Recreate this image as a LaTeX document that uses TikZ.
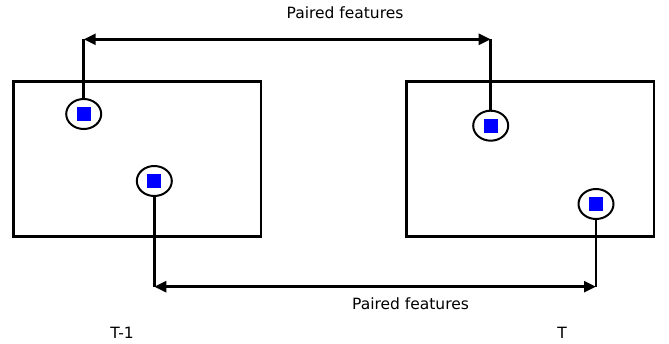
\documentclass[tikz,border=0pt]{standalone}
\usepackage{fontspec}
\setmainfont{DejaVu Sans}
\usetikzlibrary{shapes.geometric,arrows.meta}
\begin{document}
\begin{tikzpicture}[x=1pt,y=-1pt,
  frame/.style={draw,line width=2.5pt,minimum width=247.5pt,minimum height=155pt,inner sep=0pt},
  feat/.style={draw,ellipse,line width=2pt,fill=white,minimum width=35pt,minimum height=30pt,inner sep=0pt},
  sq/.style={fill=blue,minimum size=14pt,inner sep=0pt},
  conn/.style={line width=2.5pt},
  pair/.style={line width=2.5pt,{Triangle[length=12pt,width=11pt]}-{Triangle[length=12pt,width=11pt]}},
  lbl/.style={font=\fontsize{15.5}{18}\selectfont,inner sep=0pt}]
\useasboundingbox (0,0) rectangle (669,343);
\node[frame] (fL) at (137.3,158.8) {};
\node[frame] (fR) at (530,158.8) {};
\node[feat] (c1) at (83.7,114) {};
\node[feat] (c2) at (154.3,181) {};
\node[feat] (c3) at (490.7,125.7) {};
\node[feat] (c4) at (596,204) {};
\foreach \n in {c1,c2,c3,c4} \node[sq] at (\n) {};
\coordinate (t1) at (83.7,39.3);
\coordinate (t2) at (490.7,39.3);
\coordinate (b1) at (154.3,286.7);
\coordinate (b2) at (596,286.7);
\draw[conn] (c1.north) -- (t1);
\draw[conn] (c3.north) -- (t2);
\draw[conn] (c2.south) -- (b1);
\draw[conn] (c4.south) -- (b2);
\draw[pair] (t1) -- (t2);
\draw[pair] (b1) -- (b2);
\node[lbl] (lt) at (345,13) {Paired features};
\node[lbl] (lb) at (410.5,304) {Paired features};
\node[lbl] (lT1) at (122,333) {T-1};
\node[lbl] (lT) at (562,333) {T};
\end{tikzpicture}
\end{document}
